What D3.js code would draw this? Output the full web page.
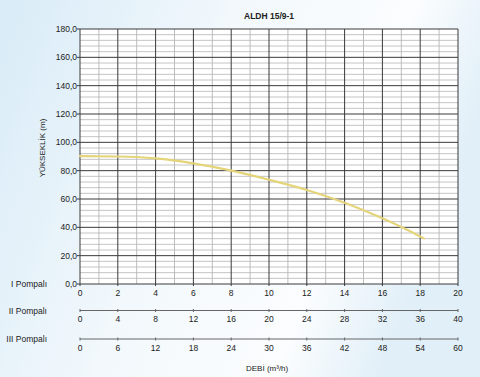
<!DOCTYPE html>
<html>
<head>
<meta charset="utf-8">
<script src="https://cdn.jsdelivr.net/npm/d3@7"></script>
<style>
  html, body { margin: 0; padding: 0; }
  body { width: 480px; height: 377px; overflow: hidden; }
  text { font-family: "Liberation Sans", Arial, sans-serif; fill: #222; }
</style>
</head>
<body>
<div id="chart"></div>
<script>
// curve (I Pompali scale)
var flow = [0, 2, 4, 6, 8, 10, 12, 14, 16, 18, 18.2];
var head = [90.2, 90, 88.7, 85.2, 80, 73.6, 66.4, 57.4, 46.4, 33.6, 32.2];

var yTicks = [0, 20, 40, 60, 80, 100, 120, 140, 160, 180];
var xTicks1 = [0, 2, 4, 6, 8, 10, 12, 14, 16, 18, 20];
var xTicks2 = [0, 4, 8, 12, 16, 20, 24, 28, 32, 36, 40];
var xTicks3 = [0, 6, 12, 18, 24, 30, 36, 42, 48, 54, 60];
var pumpLabels = ['I Pompalı', 'II Pompalı', 'III Pompalı'];

var config = {
    width: 480,
    height: 377,
    left: 80,
    right: 458,
    top: 29,
    bottom: 284
};

var svg = d3.select('#chart').append('svg')
    .attr('width', config.width)
    .attr('height', config.height);

// soft blue background
var defs = svg.append('defs');
var grad = defs.append('linearGradient')
    .attr('id', 'bg')
    .attr('x1', '0%').attr('y1', '0%')
    .attr('x2', '100%').attr('y2', '30%');
grad.append('stop').attr('offset', '0%').attr('stop-color', '#d8ebf7');
grad.append('stop').attr('offset', '45%').attr('stop-color', '#f2f8fc');
grad.append('stop').attr('offset', '80%').attr('stop-color', '#fbfdfe');
grad.append('stop').attr('offset', '100%').attr('stop-color', '#e1eff8');

svg.append('rect')
    .attr('width', config.width).attr('height', config.height)
    .attr('fill', 'url(#bg)');

var x = d3.scaleLinear().domain([0, 20]).range([config.left, config.right]);
var x2 = d3.scaleLinear().domain([0, 40]).range([config.left, config.right]);
var x3 = d3.scaleLinear().domain([0, 60]).range([config.left, config.right]);
var y = d3.scaleLinear().domain([0, 180]).range([config.bottom, config.top]);

svg.append('rect')
    .attr('x', x(0)).attr('y', y(180))
    .attr('width', x(20) - x(0)).attr('height', y(0) - y(180))
    .attr('fill', '#fff');

var grid = svg.append('g');

// minor grid
grid.selectAll('.hminor')
    .data(d3.range(0, 181, 4).filter(function (d) { return d % 20 !== 0; }))
    .enter().append('line')
    .attr('x1', x(0)).attr('x2', x(20))
    .attr('y1', function (d) { return y(d); })
    .attr('y2', function (d) { return y(d); })
    .attr('stroke', '#b5b5b5').attr('stroke-width', 0.8);

grid.selectAll('.vminor')
    .data(d3.range(1, 20, 2))
    .enter().append('line')
    .attr('y1', y(0)).attr('y2', y(180))
    .attr('x1', function (d) { return x(d); })
    .attr('x2', function (d) { return x(d); })
    .attr('stroke', '#b5b5b5').attr('stroke-width', 0.9);

// major grid
grid.selectAll('.hmajor')
    .data(yTicks)
    .enter().append('line')
    .attr('x1', x(0) - 3).attr('x2', x(20))
    .attr('y1', function (d) { return y(d); })
    .attr('y2', function (d) { return y(d); })
    .attr('stroke', '#3a3a3a').attr('stroke-width', 1);

grid.selectAll('.vmajor')
    .data(xTicks1)
    .enter().append('line')
    .attr('y1', y(0) + 2).attr('y2', y(180))
    .attr('x1', function (d) { return x(d); })
    .attr('x2', function (d) { return x(d); })
    .attr('stroke', '#3a3a3a').attr('stroke-width', 1);

// curve
var line = d3.line()
    .x(function (d) { return x(d[0]); })
    .y(function (d) { return y(d[1]); })
    .curve(d3.curveMonotoneX);

svg.append('path')
    .datum(d3.zip(flow, head))
    .attr('d', line)
    .attr('fill', 'none')
    .attr('stroke', '#e4d57a')
    .attr('stroke-width', 2.2)
    .attr('stroke-linecap', 'round');

// y tick labels
svg.selectAll('.ylab')
    .data(yTicks)
    .enter().append('text')
    .attr('x', x(0) - 3)
    .attr('y', function (d) { return y(d) + 3; })
    .attr('text-anchor', 'end')
    .attr('font-size', 8.5)
    .text(function (d) { return d3.format('.1f')(d).replace('.', ','); });

svg.append('text')
    .attr('transform', 'translate(45,148) rotate(-90)')
    .attr('text-anchor', 'middle')
    .attr('font-size', 8)
    .text('YÜKSEKLİK (m)');

// three flow scales
var rows = [
    { scale: x, ticks: xTicks1, lineY: null, labY: 295.5, nameY: 287 },
    { scale: x2, ticks: xTicks2, lineY: 310.5, labY: 322, nameY: 314 },
    { scale: x3, ticks: xTicks3, lineY: 339, labY: 350.5, nameY: 342 }
];

rows.forEach(function (r, i) {
    var g = svg.append('g');
    if (r.lineY !== null) {
        g.append('line')
            .attr('x1', x(0)).attr('x2', x(20))
            .attr('y1', r.lineY).attr('y2', r.lineY)
            .attr('stroke', '#666').attr('stroke-width', 1);
        g.selectAll('.tk')
            .data(r.ticks)
            .enter().append('line')
            .attr('x1', function (d) { return r.scale(d); })
            .attr('x2', function (d) { return r.scale(d); })
            .attr('y1', r.lineY - 1.5).attr('y2', r.lineY + 1.5)
            .attr('stroke', '#666');
    }
    g.selectAll('.lab')
        .data(r.ticks)
        .enter().append('text')
        .attr('x', function (d) { return r.scale(d); })
        .attr('y', r.labY)
        .attr('text-anchor', 'middle')
        .attr('font-size', 8.5)
        .text(function (d) { return d; });
    svg.append('text')
        .attr('x', 47)
        .attr('y', r.nameY)
        .attr('text-anchor', 'end')
        .attr('font-size', 8.5)
        .text(pumpLabels[i]);
});

svg.append('text')
    .attr('x', 246)
    .attr('y', 371)
    .attr('font-size', 8)
    .text('DEBİ (m³/h)');

svg.append('text')
    .attr('x', 244)
    .attr('y', 19)
    .attr('font-size', 8.5)
    .attr('font-weight', 'bold')
    .text('ALDH 15/9-1');
</script>
</body>
</html>
